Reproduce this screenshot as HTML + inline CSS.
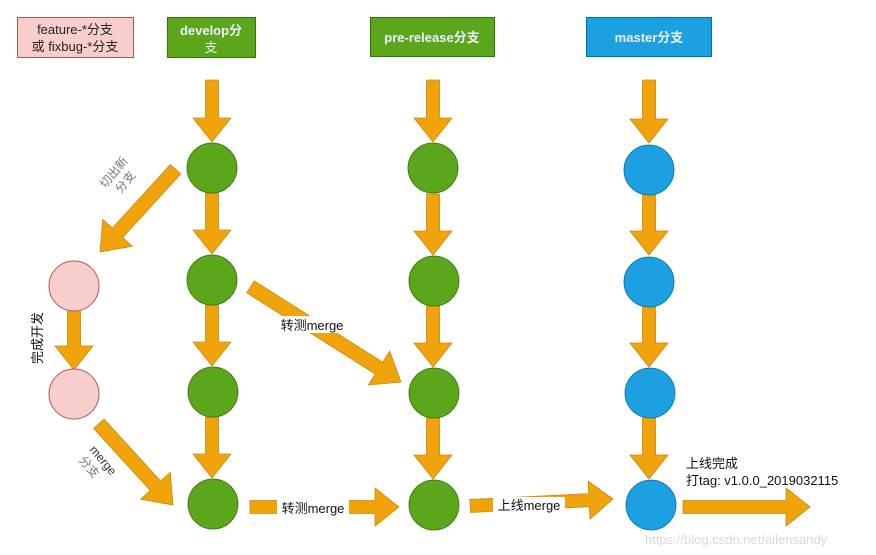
<!DOCTYPE html>
<html><head><meta charset="utf-8"><style>
html,body{margin:0;padding:0;background:#fff;}
svg{display:block;}
text{font-family:"Liberation Sans","Noto Sans CJK SC",sans-serif;}
</style></head><body>
<svg width="876" height="555" viewBox="0 0 876 555" xmlns="http://www.w3.org/2000/svg">
<defs>
<polygon id="ar" points="0,-6.5 -24,-6.5 -24,-19 0,0 -24,19 -24,6.5" />
</defs>
<!-- header boxes -->
<rect x="17.5" y="17.5" width="116" height="40" fill="#f8cecc" stroke="#b85450"/>
<text x="75" y="34" font-size="13" text-anchor="middle" fill="#222">feature-*分支</text>
<text x="75" y="51" font-size="13" text-anchor="middle" fill="#222">或 fixbug-*分支</text>
<rect x="167.5" y="17.5" width="88" height="40" fill="#5ba61b" stroke="#2d7600"/>
<text x="211" y="35" font-size="13" font-weight="bold" text-anchor="middle" fill="#eef">develop分</text>
<text x="211" y="52" font-size="13" text-anchor="middle" fill="#eef">支</text>
<rect x="370.5" y="17.5" width="124" height="39" fill="#5ba61b" stroke="#2d7600"/>
<text x="432" y="42" font-size="13" font-weight="bold" text-anchor="middle" fill="#eef">pre-release分支</text>
<rect x="586.5" y="17.5" width="125" height="39" fill="#1ba1e2" stroke="#006eaf"/>
<text x="649" y="42" font-size="13" font-weight="bold" text-anchor="middle" fill="#eef">master分支</text>

<g fill="#f0a30a" stroke="#c88a08" stroke-width="0.8">
<!-- vertical arrows -->
<g transform="translate(212,142) rotate(90)"><polygon points="0,0 -24,-19 -24,-6.5 -62,-6.5 -62,6.5 -24,6.5 -24,19"/></g>
<g transform="translate(212,254) rotate(90)"><polygon points="0,0 -24,-19 -24,-6.5 -61,-6.5 -61,6.5 -24,6.5 -24,19"/></g>
<g transform="translate(212,366) rotate(90)"><polygon points="0,0 -24,-19 -24,-6.5 -61,-6.5 -61,6.5 -24,6.5 -24,19"/></g>
<g transform="translate(212,478) rotate(90)"><polygon points="0,0 -24,-19 -24,-6.5 -61,-6.5 -61,6.5 -24,6.5 -24,19"/></g>

<g transform="translate(433,142) rotate(90)"><polygon points="0,0 -24,-19 -24,-6.5 -62,-6.5 -62,6.5 -24,6.5 -24,19"/></g>
<g transform="translate(433,255) rotate(90)"><polygon points="0,0 -24,-19 -24,-6.5 -61,-6.5 -61,6.5 -24,6.5 -24,19"/></g>
<g transform="translate(433,367) rotate(90)"><polygon points="0,0 -24,-19 -24,-6.5 -61,-6.5 -61,6.5 -24,6.5 -24,19"/></g>
<g transform="translate(433,479) rotate(90)"><polygon points="0,0 -24,-19 -24,-6.5 -61,-6.5 -61,6.5 -24,6.5 -24,19"/></g>

<g transform="translate(649,143) rotate(90)"><polygon points="0,0 -24,-19 -24,-6.5 -63,-6.5 -63,6.5 -24,6.5 -24,19"/></g>
<g transform="translate(649,255) rotate(90)"><polygon points="0,0 -24,-19 -24,-6.5 -61,-6.5 -61,6.5 -24,6.5 -24,19"/></g>
<g transform="translate(649,367) rotate(90)"><polygon points="0,0 -24,-19 -24,-6.5 -61,-6.5 -61,6.5 -24,6.5 -24,19"/></g>
<g transform="translate(649,479) rotate(90)"><polygon points="0,0 -24,-19 -24,-6.5 -61,-6.5 -61,6.5 -24,6.5 -24,19"/></g>

<g transform="translate(74,370) rotate(90)"><polygon points="0,0 -24,-19 -24,-6.5 -60,-6.5 -60,6.5 -24,6.5 -24,19"/></g>

<!-- diagonal arrows -->
<g transform="translate(100,252) rotate(132.4)"><polygon points="0,0 -26,-20 -26,-7 -112,-7 -112,7 -26,7 -26,20"/></g>
<g transform="translate(401,382) rotate(32.3)"><polygon points="0,0 -26,-20 -26,-7 -178,-7 -178,7 -26,7 -26,20"/></g>
<g transform="translate(173,505) rotate(47.6)"><polygon points="0,0 -26,-20 -26,-7 -110,-7 -110,7 -26,7 -26,20"/></g>

<!-- horizontal arrows -->
<g transform="translate(399,507)"><polygon points="0,0 -24,-19 -24,-6.5 -149,-6.5 -149,6.5 -24,6.5 -24,19"/></g>
<g transform="translate(613,499) rotate(-2.8)"><polygon points="0,0 -24,-19 -24,-6.5 -143,-6.5 -143,6.5 -24,6.5 -24,19"/></g>
<g transform="translate(810,507)"><polygon points="0,0 -24,-19 -24,-6.5 -127,-6.5 -127,6.5 -24,6.5 -24,19"/></g>
</g>

<!-- circles -->
<g fill="#5ba61b" stroke="#2d7600" stroke-width="0.8">
<circle cx="212" cy="168" r="25"/><circle cx="212" cy="280" r="25"/><circle cx="213" cy="392" r="25"/><circle cx="213" cy="504" r="25"/>
<circle cx="433" cy="168" r="25"/><circle cx="434" cy="281" r="25"/><circle cx="434" cy="393" r="25"/><circle cx="434" cy="505" r="25"/>
</g>
<g fill="#1ba1e2" stroke="#006eaf" stroke-width="0.8">
<circle cx="649" cy="170" r="25"/><circle cx="649" cy="282" r="25"/><circle cx="650" cy="393" r="25"/><circle cx="651" cy="505" r="25"/>
</g>
<g fill="#f8cecc" stroke="#b85450" stroke-width="1">
<circle cx="74" cy="286" r="25"/><circle cx="74" cy="394" r="25"/>
</g>

<!-- labels -->
<g transform="translate(117,175) rotate(-50)" fill="#777" font-size="12">
<text x="0" y="0" text-anchor="middle">切出新</text>
<text x="0" y="15" text-anchor="middle">分支</text>
</g>
<text transform="translate(42,338) rotate(-90)" font-size="13" text-anchor="middle" fill="#111">完成开发</text>
<g transform="translate(100,463) rotate(50)" font-size="12">
<text x="0" y="0" text-anchor="middle" fill="#333">merge</text>
<text x="-4" y="15" text-anchor="middle" fill="#777">分支</text>
</g>
<rect x="276" y="316" width="72" height="17" fill="#fff"/>
<text x="312" y="330" font-size="13" text-anchor="middle" fill="#111">转测merge</text>
<rect x="277" y="499" width="72" height="17" fill="#fff"/>
<text x="313" y="513" font-size="13" text-anchor="middle" fill="#111">转测merge</text>
<rect x="493" y="497" width="72" height="17" fill="#fff"/>
<text x="529" y="510" font-size="13" text-anchor="middle" fill="#111">上线merge</text>
<text x="686" y="468" font-size="13" fill="#111">上线完成</text>
<text x="686" y="485" font-size="13" fill="#111">打tag: v1.0.0_2019032115</text>
<text x="645" y="544" font-size="13" fill="#d8d8d8">https://blog.csdn.net/allensandy</text>
</svg>
</body></html>
